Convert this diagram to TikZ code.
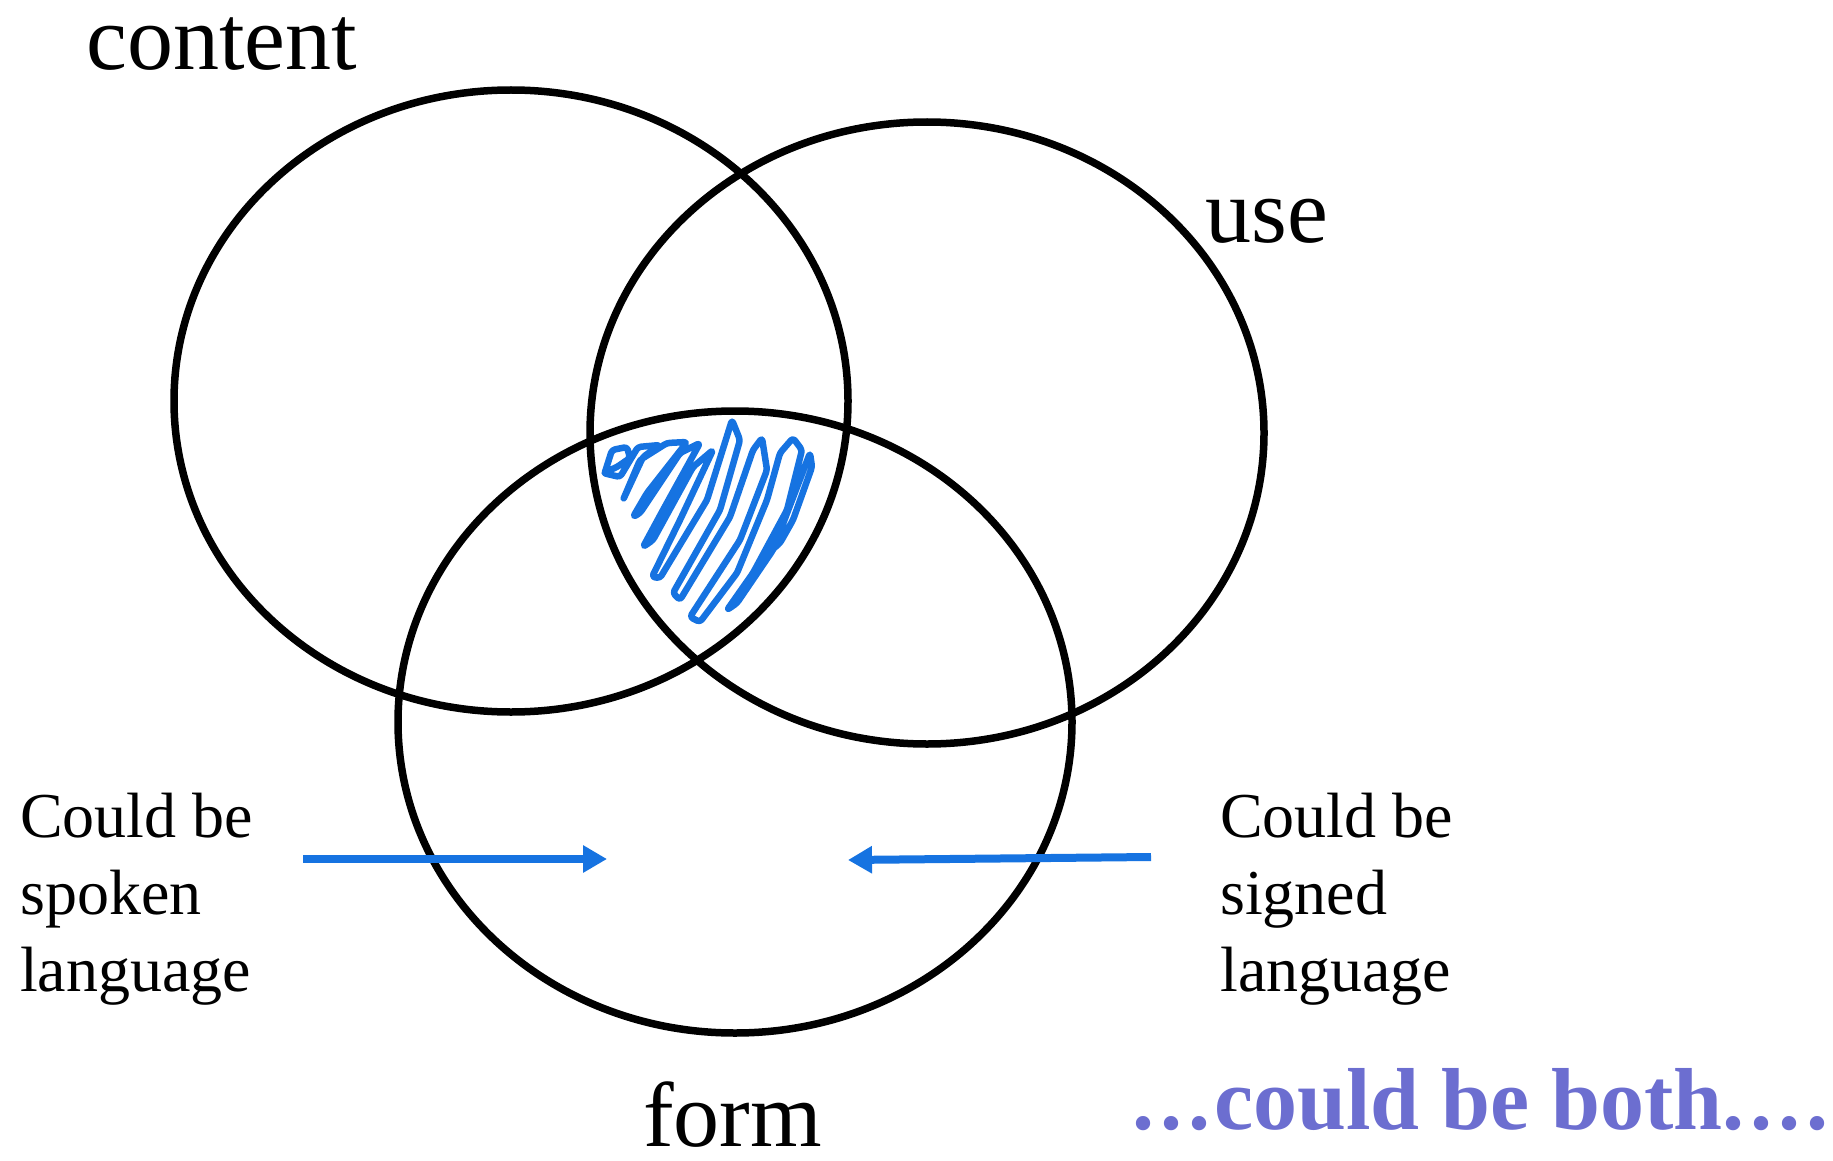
\documentclass[tikz,border=0pt]{standalone}
\usepackage{fontspec}
\setmainfont{Liberation Serif}
\usetikzlibrary{shapes.geometric,arrows.meta}
\definecolor{penblue}{RGB}{22,115,225}
\definecolor{bothblue}{RGB}{108,110,208}

\begin{document}
\begin{tikzpicture}[x=1pt,y=-1pt,
  set/.style={ellipse,draw=black,line width=7.5pt,inner sep=0pt,
    minimum width=674pt,minimum height=622pt},
  bigword/.style={inner sep=0pt,anchor=base west,font=\fontsize{92}{94}\selectfont},
  sideword/.style={inner sep=0pt,anchor=base west,font=\fontsize{64}{77}\selectfont},
  pointer/.style={penblue,line width=8pt,-{Triangle[length=24pt,width=26pt]}},
  scribble/.style={penblue,line width=6.5pt,line join=round,line cap=round,rounded corners=3pt}]
\useasboundingbox (0,0) rectangle (1833,1161);
% the three sets
\node[set] (content) at (511,401) {};
\node[set] (use) at (927,433) {};
\node[set] (form) at (735,722) {};
% set names
\node[bigword] (contentname) at (86,70) {content};
\node[bigword] (usename) at (1205,242) {use};
\node[bigword] (formname) at (643,1146) {form};
% shaded middle
\draw[scribble] (605,472) -- (612,450) -- (627,447) -- (630,458) -- (617,467) -- (603,473)
  -- (620,477) -- (638,447) -- (660,445) -- (643,457) -- (623,500) -- (640,460)
  -- (667,443) -- (687,442) -- (647,493) -- (633,517) -- (640,513) -- (680,453)
  -- (700,443) -- (663,510) -- (643,547) -- (653,540) -- (693,467) -- (713,450)
  -- (680,520) -- (652,577) -- (660,578) -- (707,500) -- (732,420) -- (740,440)
  -- (720,510) -- (673,593) -- (680,600) -- (730,517) -- (753,450) -- (762,438)
  -- (767,470) -- (740,540) -- (690,617) -- (700,622) -- (737,573) -- (767,500)
  -- (780,453) -- (793,438) -- (802,450) -- (787,510) -- (753,573) -- (727,610)
  -- (737,603) -- (773,550) -- (810,453) -- (812,467) -- (793,520) -- (780,543)
  -- (760,560);
% spoken side
\node[sideword] (spoken1) at (20,837) {Could be};
\node[sideword] (spoken2) at (20,914) {spoken};
\node[sideword] (spoken3) at (20,991) {language};
\coordinate (spokentail) at (303,859);
\coordinate (spokenhead) at (607,859);
\draw[pointer] (spokentail) -- (spokenhead);
% signed side
\node[sideword] (signed1) at (1220,837) {Could be};
\node[sideword] (signed2) at (1220,914) {signed};
\node[sideword] (signed3) at (1220,991) {language};
\coordinate (signedtail) at (1151,857);
\coordinate (signedhead) at (848,860);
\draw[pointer] (signedtail) -- (signedhead);
% both
\node[inner sep=0pt,anchor=base west,text=bothblue,font=\fontsize{88}{90}\selectfont\bfseries]
  (both) at (1132,1129) {.\kern6pt.\kern6pt.\kern4pt could be both.\kern6pt.\kern6pt.\kern6pt.};
\end{tikzpicture}
\end{document}
